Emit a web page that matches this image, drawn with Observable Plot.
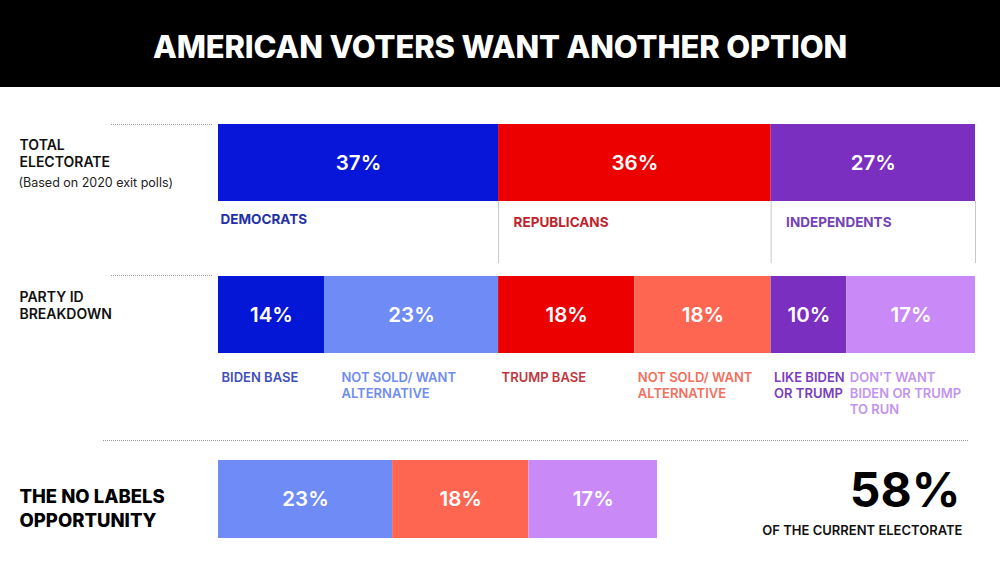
<!DOCTYPE html>
<html>
<head>
<meta charset="utf-8">
<script src="https://cdn.jsdelivr.net/npm/d3@7"></script>
<script src="https://cdn.jsdelivr.net/npm/@observablehq/plot@0.6"></script>
<style>
  html, body { margin: 0; padding: 0; background: #fff; }
  #header {
    height: 87px; background: #000; color: #fff;
    display: flex; align-items: center; justify-content: center;
    font-family: Inter, "DejaVu Sans", sans-serif; font-weight: 800;
    font-size: 31px; letter-spacing: -0.15px; padding-top: 6px; box-sizing: border-box;
  }
  #chart svg { display: block; }
</style>
</head>
<body>
<div id="header">AMERICAN VOTERS WANT ANOTHER OPTION</div>
<div id="chart"></div>
<script>
// ---- data ----
const totalGroups = ["DEMOCRATS", "REPUBLICANS", "INDEPENDENTS"];
const totalShares = [37, 36, 27];

const partyGroups = [
  "BIDEN BASE",
  "NOT SOLD/ WANT\nALTERNATIVE",
  "TRUMP BASE",
  "NOT SOLD/ WANT\nALTERNATIVE",
  "LIKE BIDEN\nOR TRUMP",
  "DON'T WANT\nBIDEN OR TRUMP\nTO RUN"
];
const partyShares = [14, 23, 18, 18, 10, 17];

const opportunityGroups = ["Democrats not sold", "Republicans not sold", "Independents who don't want Biden or Trump"];
const opportunityShares = [23, 18, 17];

const rowLabels = ["TOTAL\nELECTORATE", "PARTY ID\nBREAKDOWN", "THE NO LABELS\nOPPORTUNITY"];
const rowNote = "(Based on 2020 exit polls)";
const totalNote = "OF THE CURRENT ELECTORATE";

// ---- styles ----
const totalFill = ["#0716d8", "#ec0000", "#7b2fc0"];
const totalText = ["#2431a6", "#c0232b", "#7443b5"];
const partyFill = ["#0416d6", "#6f8cf6", "#ec0000", "#ff6652", "#7b2fc0", "#c98af7"];
const partyText = ["#3f50bb", "#6f8cf0", "#c2353d", "#f26f5e", "#7a3dbd", "#c394ee"];
const oppFill = ["#6f8cf6", "#ff6652", "#c98af7"];

// ---- layout (pixels within the svg) ----
const W = 1000, H = 478;
const rowTop = {total: 37, party: 189, opp: 373};
const barH = 77;

function stack(groups, values, extra) {
  let acc = 0;
  return values.map((v, i) => {
    const d = {group: groups[i], value: v, start: acc, end: acc + v, i, ...extra(i)};
    acc += v;
    return d;
  });
}
const totalData = stack(totalGroups, totalShares, i => ({fill: totalFill[i], tcolor: totalText[i]}));
const partyData = stack(partyGroups, partyShares, i => ({fill: partyFill[i], tcolor: partyText[i]}));
const oppData = stack(opportunityGroups, opportunityShares, i => ({fill: oppFill[i]}));
const oppTotal = d3.sum(opportunityShares);

const font = "Inter, 'DejaVu Sans', sans-serif";
const partyLabel = {y: rowTop.party + barH + 17, text: "group", textAnchor: "start", lineAnchor: "top", lineHeight: 1.23, fill: "tcolor", fontSize: 13, fontWeight: 600};

const chart = Plot.plot({
  width: W, height: H,
  marginLeft: 218, marginRight: 25, marginTop: 0, marginBottom: 0,
  x: {domain: [0, 100], axis: null},
  y: {domain: [0, H], range: [0, H], axis: null},
  color: {type: "identity"},
  style: {fontFamily: font, background: "#fff"},
  marks: [
    // dotted separators
    Plot.ruleY([rowTop.total], {stroke: "#9a9a9a", strokeDasharray: "1,1", insetLeft: -107, insetRight: 763}),
    Plot.ruleY([rowTop.party - 1], {stroke: "#9a9a9a", strokeDasharray: "1,1", insetLeft: -107, insetRight: 763}),
    Plot.ruleY([rowTop.opp - 20], {stroke: "#9a9a9a", strokeDasharray: "1,1", insetLeft: -115, insetRight: 7}),

    // row 1: total electorate
    Plot.rect(totalData, {x1: "start", x2: "end", y1: rowTop.total, y2: rowTop.total + barH, fill: "fill"}),
    Plot.ruleX(totalData, {x: "end", y1: rowTop.total + barH, y2: rowTop.total + barH + 62, stroke: "#c8c8c8"}),
    Plot.text(totalData, {x: d => (d.start + d.end) / 2, y: rowTop.total + barH / 2, text: d => d.value + "%", fill: "white", fontSize: 20.5, fontWeight: 600}),
    Plot.text(totalData.filter(d => d.i === 0), {x: "start", y: rowTop.total + barH + 13, text: "group", textAnchor: "start", lineAnchor: "top", dx: 2, fill: "tcolor", fontSize: 13.5, fontWeight: 700}),
    Plot.text(totalData.filter(d => d.i > 0), {x: "start", y: rowTop.total + barH + 16, text: "group", textAnchor: "start", lineAnchor: "top", dx: 15, fill: "tcolor", fontSize: 13.5, fontWeight: 700}),

    // row 2: party id breakdown
    Plot.rect(partyData, {x1: "start", x2: "end", y1: rowTop.party, y2: rowTop.party + barH, fill: "fill"}),
    Plot.text(partyData, {x: d => (d.start + d.end) / 2, y: rowTop.party + barH / 2, text: d => d.value + "%", fill: "white", fontSize: 20.5, fontWeight: 600}),
    Plot.text(partyData.filter(d => d.i !== 1), {x: "start", dx: 3, ...partyLabel}),
    Plot.text(partyData.filter(d => d.i === 1), {x: "start", dx: 17, ...partyLabel}),

    // row 3: the opportunity
    Plot.rect(oppData, {x1: "start", x2: "end", y1: rowTop.opp, y2: rowTop.opp + barH + 1, fill: "fill"}),
    Plot.text(oppData, {x: d => (d.start + d.end) / 2, y: rowTop.opp + (barH + 1) / 2, text: d => d.value + "%", fill: "white", fontSize: 20.5, fontWeight: 600}),

    // left row labels
    Plot.text([rowLabels[0]], {text: d => d, frameAnchor: "left", y: rowTop.total + 14, dx: -199, textAnchor: "start", lineAnchor: "top", lineHeight: 1.2, fontSize: 14, fontWeight: 600, fill: "#111"}),
    Plot.text([rowNote], {text: d => d, frameAnchor: "left", y: rowTop.total + 54, dx: -200, textAnchor: "start", lineAnchor: "top", fontSize: 12.5, fontWeight: 400, fill: "#222"}),
    Plot.text([rowLabels[1]], {text: d => d, frameAnchor: "left", y: rowTop.party + 14, dx: -199, textAnchor: "start", lineAnchor: "top", lineHeight: 1.2, fontSize: 14, fontWeight: 600, fill: "#111"}),
    Plot.text([rowLabels[2]], {text: d => d, frameAnchor: "left", y: rowTop.opp + 25, dx: -199, textAnchor: "start", lineAnchor: "top", lineHeight: 1.3, fontSize: 18.5, fontWeight: 800, fill: "#000", letterSpacing: "-0.6px"}),

    // big total on the right
    Plot.text([oppTotal + "%"], {text: d => d, frameAnchor: "right", y: rowTop.opp + 31, dx: -15, textAnchor: "end", fontSize: 48, fontWeight: 700, fill: "#000", letterSpacing: "-1.5px"}),
    Plot.text([totalNote], {text: d => d, frameAnchor: "right", y: rowTop.opp + 70, dx: -13, textAnchor: "end", fontSize: 13, fontWeight: 600, fill: "#111", letterSpacing: "0.1px"})
  ]
});
document.getElementById("chart").appendChild(chart);
</script>
</body>
</html>
